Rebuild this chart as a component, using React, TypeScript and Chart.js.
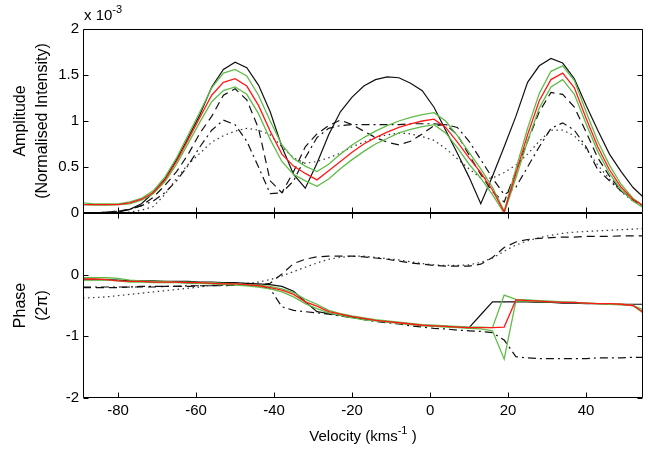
import React, { useEffect, useRef } from 'react';
import { Chart, registerables } from 'chart.js';

Chart.register(...registerables);

const FONT = '"Liberation Sans", Arial, Helvetica, sans-serif';

// Velocity grid (km/s)
const velocity = [-89, -86, -83, -80, -77, -74, -71, -68, -65, -62, -59, -56, -53, -50, -47, -44, -41, -38, -35, -32, -29, -26, -23, -20, -17, -14, -11, -8, -5, -2, 1, 4, 7, 10, 13, 16, 19, 22, 25, 28, 31, 34, 37, 40, 43, 46, 49, 52, 55];

// Amplitude (x 10^-3)
const ampBlack = [0.00, 0.00, 0.00, 0.01, 0.04, 0.10, 0.22, 0.37, 0.58, 0.82, 1.07, 1.37, 1.56, 1.64, 1.58, 1.39, 1.10, 0.72, 0.42, 0.27, 0.54, 0.85, 1.10, 1.26, 1.38, 1.45, 1.48, 1.47, 1.41, 1.33, 1.15, 0.90, 0.65, 0.39, 0.10, 0.40, 0.72, 1.05, 1.42, 1.60, 1.68, 1.63, 1.46, 1.17, 0.90, 0.64, 0.45, 0.28, 0.16];
const ampRed = [0.09, 0.09, 0.09, 0.09, 0.11, 0.15, 0.22, 0.36, 0.56, 0.80, 1.04, 1.28, 1.42, 1.46, 1.38, 1.17, 0.89, 0.64, 0.51, 0.43, 0.36, 0.46, 0.56, 0.66, 0.75, 0.82, 0.88, 0.93, 0.97, 1.00, 1.02, 0.93, 0.77, 0.60, 0.44, 0.25, 0.01, 0.43, 0.85, 1.22, 1.45, 1.52, 1.36, 1.03, 0.72, 0.47, 0.28, 0.15, 0.07];
const ampGreenUpper = [0.11, 0.10, 0.10, 0.10, 0.12, 0.16, 0.24, 0.39, 0.60, 0.85, 1.10, 1.36, 1.52, 1.56, 1.49, 1.28, 1.00, 0.74, 0.59, 0.51, 0.45, 0.53, 0.64, 0.74, 0.82, 0.89, 0.95, 1.00, 1.04, 1.07, 1.09, 1.00, 0.84, 0.66, 0.48, 0.28, 0.02, 0.48, 0.92, 1.30, 1.54, 1.60, 1.44, 1.10, 0.78, 0.52, 0.31, 0.16, 0.07];
const ampGreenLower = [0.09, 0.085, 0.085, 0.09, 0.10, 0.14, 0.21, 0.34, 0.53, 0.76, 0.99, 1.21, 1.33, 1.37, 1.29, 1.08, 0.80, 0.56, 0.42, 0.35, 0.29, 0.37, 0.48, 0.58, 0.67, 0.75, 0.81, 0.87, 0.91, 0.94, 0.96, 0.87, 0.71, 0.53, 0.38, 0.20, 0.00, 0.38, 0.78, 1.14, 1.37, 1.45, 1.29, 0.97, 0.67, 0.43, 0.25, 0.13, 0.05];
const ampDashed = [0.00, 0.00, 0.01, 0.02, 0.04, 0.08, 0.17, 0.30, 0.45, 0.64, 0.87, 1.05, 1.28, 1.35, 1.23, 0.92, 0.35, 0.22, 0.45, 0.72, 0.86, 0.95, 1.01, 0.96, 0.89, 0.82, 0.77, 0.74, 0.78, 0.86, 0.95, 0.96, 0.85, 0.63, 0.42, 0.23, 0.12, 0.45, 0.78, 1.10, 1.31, 1.29, 1.15, 0.88, 0.60, 0.40, 0.24, 0.15, 0.08];
const ampDashDot = [0.00, 0.00, 0.01, 0.02, 0.04, 0.08, 0.13, 0.22, 0.35, 0.52, 0.72, 0.90, 1.01, 0.96, 0.78, 0.50, 0.21, 0.22, 0.35, 0.60, 0.82, 0.92, 0.95, 0.96, 0.96, 0.96, 0.96, 0.96, 0.97, 0.97, 0.97, 0.96, 0.93, 0.78, 0.58, 0.38, 0.20, 0.28, 0.50, 0.72, 0.92, 0.98, 0.90, 0.72, 0.47, 0.35, 0.24, 0.14, 0.07];
const ampDotted = [0.00, 0.00, 0.00, 0.00, 0.01, 0.03, 0.07, 0.20, 0.38, 0.53, 0.65, 0.77, 0.84, 0.89, 0.92, 0.90, 0.85, 0.72, 0.60, 0.54, 0.56, 0.60, 0.65, 0.72, 0.77, 0.82, 0.85, 0.87, 0.86, 0.83, 0.79, 0.70, 0.59, 0.48, 0.38, 0.38, 0.44, 0.52, 0.64, 0.78, 0.90, 0.90, 0.84, 0.70, 0.52, 0.37, 0.23, 0.13, 0.07];

// Phase (2 pi)
const phaseBlack = [-0.08, -0.08, -0.08, -0.09, -0.10, -0.10, -0.10, -0.11, -0.11, -0.11, -0.12, -0.12, -0.13, -0.13, -0.14, -0.15, -0.16, -0.19, -0.27, -0.44, -0.60, -0.63, -0.66, -0.69, -0.72, -0.74, -0.76, -0.78, -0.80, -0.82, -0.83, -0.84, -0.85, -0.86, -0.65, -0.44, -0.44, -0.44, -0.44, -0.45, -0.45, -0.46, -0.46, -0.47, -0.47, -0.48, -0.48, -0.48, -0.48];
const phaseRed = [-0.07, -0.07, -0.08, -0.10, -0.11, -0.11, -0.12, -0.12, -0.12, -0.13, -0.13, -0.14, -0.15, -0.15, -0.16, -0.18, -0.21, -0.25, -0.32, -0.44, -0.51, -0.60, -0.64, -0.68, -0.71, -0.74, -0.76, -0.78, -0.80, -0.82, -0.83, -0.84, -0.85, -0.86, -0.86, -0.86, -0.85, -0.41, -0.42, -0.43, -0.44, -0.45, -0.45, -0.46, -0.47, -0.47, -0.48, -0.50, -0.62];
const phaseGreenUpper = [-0.05, -0.05, -0.05, -0.06, -0.09, -0.10, -0.11, -0.11, -0.12, -0.12, -0.13, -0.13, -0.14, -0.15, -0.16, -0.17, -0.19, -0.23, -0.29, -0.40, -0.48, -0.58, -0.63, -0.67, -0.70, -0.73, -0.75, -0.77, -0.79, -0.81, -0.82, -0.83, -0.84, -0.85, -0.85, -0.86, -0.33, -0.40, -0.41, -0.42, -0.43, -0.44, -0.45, -0.46, -0.47, -0.48, -0.49, -0.50, -0.58];
const phaseGreenLower = [-0.09, -0.09, -0.09, -0.10, -0.12, -0.12, -0.13, -0.13, -0.13, -0.14, -0.14, -0.15, -0.16, -0.17, -0.18, -0.20, -0.23, -0.28, -0.36, -0.47, -0.55, -0.62, -0.66, -0.70, -0.73, -0.75, -0.77, -0.79, -0.81, -0.83, -0.84, -0.85, -0.86, -0.87, -0.88, -0.91, -1.37, -0.43, -0.43, -0.44, -0.44, -0.45, -0.45, -0.46, -0.47, -0.47, -0.48, -0.50, -0.64];
const phaseDashed = [-0.21, -0.21, -0.21, -0.21, -0.20, -0.20, -0.20, -0.19, -0.19, -0.19, -0.18, -0.18, -0.18, -0.17, -0.17, -0.17, -0.14, 0.01, 0.18, 0.25, 0.29, 0.30, 0.30, 0.30, 0.29, 0.27, 0.25, 0.22, 0.19, 0.17, 0.15, 0.14, 0.14, 0.14, 0.17, 0.28, 0.44, 0.53, 0.57, 0.59, 0.60, 0.61, 0.61, 0.62, 0.62, 0.62, 0.63, 0.63, 0.63];
const phaseDashDot = [-0.20, -0.20, -0.20, -0.20, -0.20, -0.19, -0.19, -0.19, -0.19, -0.18, -0.18, -0.18, -0.17, -0.17, -0.17, -0.17, -0.23, -0.52, -0.58, -0.60, -0.62, -0.64, -0.67, -0.70, -0.73, -0.76, -0.78, -0.80, -0.83, -0.85, -0.87, -0.88, -0.90, -0.91, -0.92, -0.94, -1.06, -1.33, -1.35, -1.36, -1.36, -1.36, -1.36, -1.36, -1.35, -1.35, -1.35, -1.34, -1.34];
const phaseDotted = [-0.38, -0.37, -0.36, -0.34, -0.32, -0.30, -0.28, -0.26, -0.24, -0.22, -0.20, -0.17, -0.16, -0.15, -0.14, -0.12, -0.08, -0.02, 0.05, 0.12, 0.19, 0.25, 0.28, 0.30, 0.30, 0.28, 0.26, 0.24, 0.21, 0.18, 0.16, 0.15, 0.15, 0.16, 0.20, 0.27, 0.38, 0.48, 0.55, 0.60, 0.64, 0.67, 0.69, 0.70, 0.71, 0.72, 0.73, 0.74, 0.75];

// Ticks
const xTicks = [-80, -60, -40, -20, 0, 20, 40];
const ampTicks = [0, 0.5, 1, 1.5, 2];
const phaseTicks = [-2, -1, 0];
const phaseTickMarks = [-2, -1, 0, 1];

const X_MIN = -89;
const X_MAX = 54.6;

const RED = '#ff1a1a';
const GREEN = '#5fbc46';

function pts(ys: number[]) {
  return velocity.map((v, i) => ({ x: v, y: ys[i] }));
}

function makeSets(black: number[], red: number[], gu: number[], gl: number[], dashed: number[], dashDot: number[], dotted: number[]) {
  return [
    { data: pts(red), borderColor: RED, borderWidth: 1.3 },
    { data: pts(gu), borderColor: GREEN, borderWidth: 1.3 },
    { data: pts(gl), borderColor: GREEN, borderWidth: 1.3 },
    { data: pts(black), borderColor: '#111', borderWidth: 1.2 },
    { data: pts(dashed), borderColor: '#111', borderWidth: 1.2, borderDash: [8, 5] },
    { data: pts(dashDot), borderColor: '#111', borderWidth: 1.2, borderDash: [8, 4, 2, 4] },
    { data: pts(dotted), borderColor: '#333', borderWidth: 1.2, borderDash: [1.5, 3.5] },
  ];
}

type Part = { t: string; sup?: boolean };

function drawParts(ctx: CanvasRenderingContext2D, parts: Part[], x: number, y: number, align: 'left' | 'center') {
  const big = `15px ${FONT}`;
  const small = `11px ${FONT}`;
  let total = 0;
  const widths = parts.map((p) => {
    ctx.font = p.sup ? small : big;
    const w = ctx.measureText(p.t).width;
    total += w;
    return w;
  });
  let cx = align === 'center' ? x - total / 2 : x;
  ctx.textAlign = 'left';
  ctx.textBaseline = 'alphabetic';
  ctx.fillStyle = '#000';
  parts.forEach((p, i) => {
    ctx.font = p.sup ? small : big;
    ctx.fillText(p.t, cx, p.sup ? y - 7 : y);
    cx += widths[i];
  });
}

const framePlugin = {
  id: 'frame',
  afterDraw(chart: any, _args: any, opts: any) {
    const { ctx, chartArea: a, scales } = chart;
    const L = Math.round(a.left) + 0.5;
    const R = Math.round(a.right) - 0.5;
    const T = Math.round(a.top) + 0.5;
    const B = Math.round(a.bottom) - 0.5;
    ctx.save();
    ctx.strokeStyle = '#000';
    ctx.lineWidth = 1;
    ctx.beginPath();
    ctx.rect(L, T, R - L, B - T);
    ctx.stroke();
    const tl = 5;
    ctx.beginPath();
    for (const v of xTicks) {
      const px = Math.round(scales.x.getPixelForValue(v)) + 0.5;
      if (opts.xBottom) { ctx.moveTo(px, B); ctx.lineTo(px, B - tl); }
      if (opts.xTop) { ctx.moveTo(px, T); ctx.lineTo(px, T + tl); }
    }
    for (const v of opts.yTicks as number[]) {
      const py = Math.round(scales.y.getPixelForValue(v)) + 0.5;
      ctx.moveTo(L, py); ctx.lineTo(L + tl, py);
      ctx.moveTo(R, py); ctx.lineTo(R - tl, py);
    }
    ctx.stroke();
    if (opts.kind === 'amp') {
      drawParts(ctx, [{ t: 'x 10' }, { t: '-3', sup: true }], a.left + 1, 20, 'left');
    } else {
      drawParts(ctx, [{ t: 'Velocity (kms' }, { t: '-1', sup: true }, { t: ' )' }], (a.left + a.right) / 2, 441, 'center');
    }
    ctx.restore();
  },
};

function yTitle(lines: string[]) {
  return {
    display: true,
    text: lines,
    color: '#000',
    font: { size: 16, family: FONT, lineHeight: 1.375 },
    padding: { top: 10, bottom: 0 },
  };
}

export default function App() {
  const topRef = useRef<HTMLCanvasElement | null>(null);
  const botRef = useRef<HTMLCanvasElement | null>(null);

  useEffect(() => {
    Chart.defaults.font.family = FONT;
    Chart.defaults.color = '#000';

    const common = {
      animation: false as const,
      responsive: false,
      devicePixelRatio: 1,
      events: [] as any[],
      elements: { point: { radius: 0 }, line: { tension: 0, borderCapStyle: 'butt' } },
    };

    const top = new Chart(topRef.current as HTMLCanvasElement, {
      type: 'line',
      data: { datasets: makeSets(ampBlack, ampRed, ampGreenUpper, ampGreenLower, ampDashed, ampDashDot, ampDotted) as any },
      plugins: [framePlugin],
      options: {
        ...common,
        layout: { padding: { top: 29, bottom: 236, left: 0, right: 5 } },
        plugins: { legend: { display: false }, tooltip: { enabled: false }, frame: { kind: 'amp', xBottom: true, xTop: false, yTicks: ampTicks } } as any,
        scales: {
          x: { type: 'linear', min: X_MIN, max: X_MAX, display: false },
          y: {
            type: 'linear',
            min: 0,
            max: 2,
            afterBuildTicks: (s: any) => { s.ticks = ampTicks.map((v) => ({ value: v })); },
            afterFit: (s: any) => { s.width = 83; },
            ticks: { color: '#000', font: { size: 15 }, padding: 4, callback: (v: any) => String(v) },
            grid: { display: false, drawTicks: false },
            border: { display: false },
            title: yTitle(['Amplitude', '(Normalised Intensity)']),
          },
        },
      } as any,
    });

    const bot = new Chart(botRef.current as HTMLCanvasElement, {
      type: 'line',
      data: { datasets: makeSets(phaseBlack, phaseRed, phaseGreenUpper, phaseGreenLower, phaseDashed, phaseDashDot, phaseDotted) as any },
      plugins: [framePlugin],
      options: {
        ...common,
        layout: { padding: { top: 213, bottom: 0, left: 0, right: 5 } },
        plugins: { legend: { display: false }, tooltip: { enabled: false }, frame: { kind: 'phase', xBottom: true, xTop: true, yTicks: phaseTickMarks } } as any,
        scales: {
          x: {
            type: 'linear',
            min: X_MIN,
            max: X_MAX,
            afterBuildTicks: (s: any) => { s.ticks = xTicks.map((v) => ({ value: v })); },
            afterFit: (s: any) => { s.height = 51; },
            ticks: { color: '#000', font: { size: 15 }, padding: 4, autoSkip: false, maxRotation: 0, callback: (v: any) => String(v) },
            grid: { display: false, drawTicks: false },
            border: { display: false },
          },
          y: {
            type: 'linear',
            min: -2,
            max: 1,
            afterBuildTicks: (s: any) => { s.ticks = phaseTicks.map((v) => ({ value: v })); },
            afterFit: (s: any) => { s.width = 83; },
            ticks: { color: '#000', font: { size: 15 }, padding: 4, callback: (v: any) => String(v) },
            grid: { display: false, drawTicks: false },
            border: { display: false },
            title: yTitle(['Phase', '(2\u03c0)']),
          },
        },
      } as any,
    });

    return () => {
      top.destroy();
      bot.destroy();
    };
  }, []);

  const cstyle: React.CSSProperties = { position: 'absolute', left: 0, top: 0, width: 648, height: 449 };
  return (
    <div style={{ position: 'absolute', left: 0, top: 0, width: 648, height: 449, background: '#fff' }}>
      <canvas ref={topRef} width={648} height={449} style={cstyle} />
      <canvas ref={botRef} width={648} height={449} style={cstyle} />
    </div>
  );
}
